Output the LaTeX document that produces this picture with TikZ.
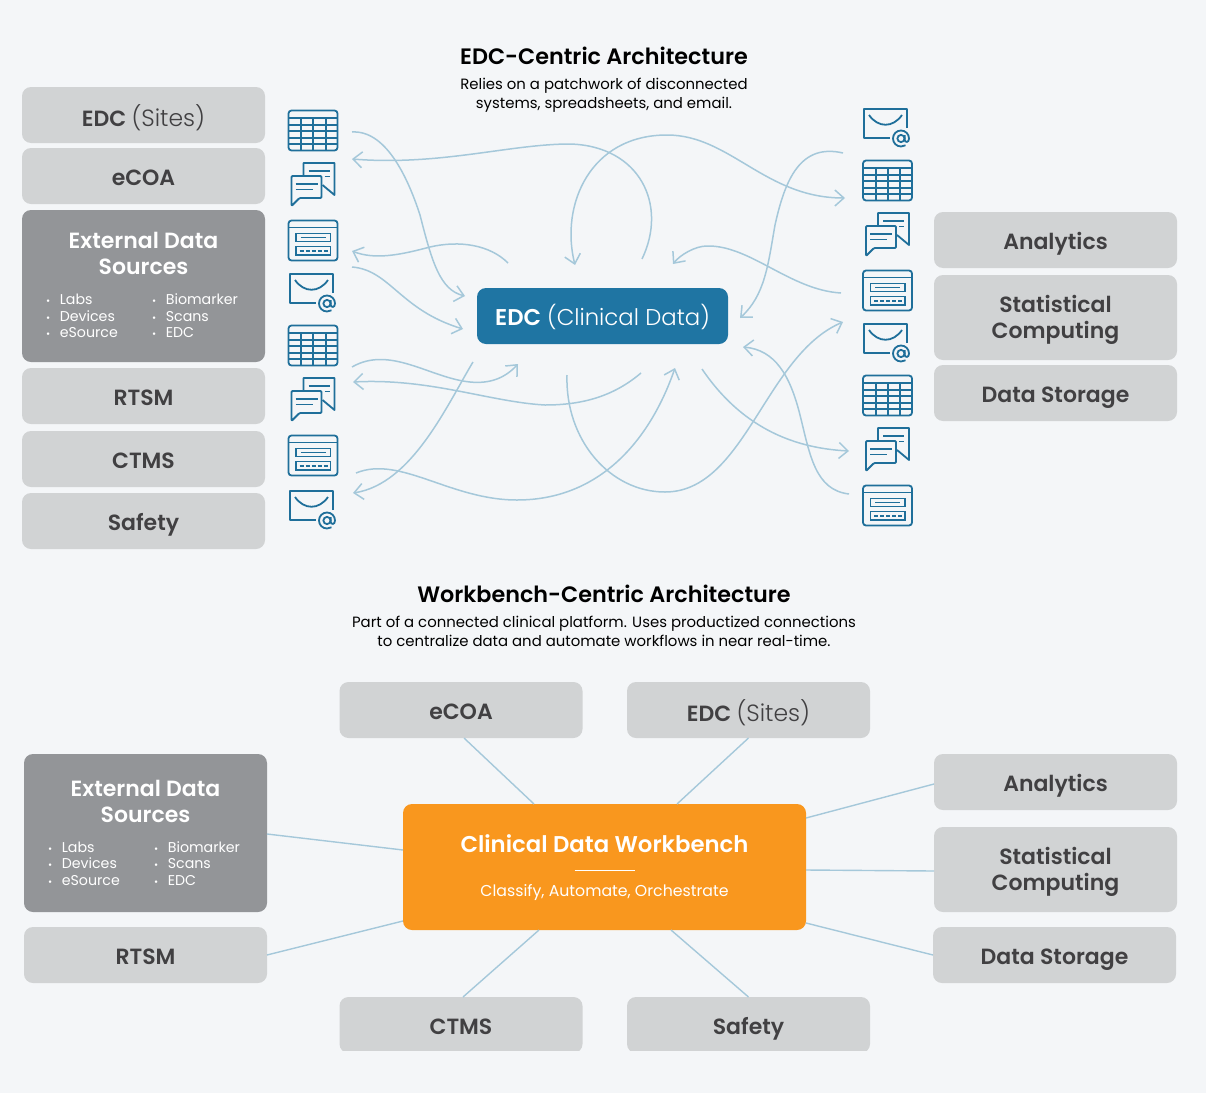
\documentclass[tikz,border=0pt]{standalone}
\usepackage{fontspec}
\setmainfont{Poppins}[BoldFont={Poppins SemiBold}]
\newfontfamily\semifont{Poppins SemiBold}
\newfontfamily\lightfont{Poppins Light}
\usepackage{xcolor}
\usetikzlibrary{positioning, arrows.meta}

\definecolor{pagebg}{HTML}{F4F6F8}
\definecolor{boxgray}{HTML}{D1D3D4}
\definecolor{darkgray}{HTML}{939598}
\definecolor{labelgray}{HTML}{414042}
\definecolor{edcblue}{HTML}{1F75A3}
\definecolor{iconblue}{HTML}{1F6F9A}
\definecolor{flowblue}{HTML}{A5C8DA}
\definecolor{wborange}{HTML}{F9971E}

\newcommand{\bul}{{\fontsize{10}{10}\selectfont\textbullet}\hspace{9.5pt}}
\newcommand{\sitesword}{{\fontsize{23.5}{26}\lightfont(Sites)}}

%--- small icons ------------------------------------------------------------
\tikzset{
  iconline/.style={draw=iconblue, line width=1.8pt, fill=none},
  tablepic/.pic={
    \draw[iconline, rounded corners=3pt] (0,0) rectangle (49,40);
    \draw[iconline, line width=2pt] (0,7) -- (49,7) (0,14) -- (49,14) (0,20.5) -- (49,20.5)
                    (0,27) -- (49,27) (0,33.5) -- (49,33.5)
                    (12.5,7) -- (12.5,40) (24.5,7) -- (24.5,40) (37,7) -- (37,40);
  },
  chatpic/.pic={
    \draw[iconline, line join=round] (12,12) -- (12,0) -- (43,0) -- (43,32) -- (31,22);
    \draw[iconline, line join=round, rounded corners=1pt] (0,43) -- (0,13) -- (30,13) -- (30,35) -- (8,35) -- cycle;
    \draw[iconline] (4,21) -- (26,21) (4,26.5) -- (21,26.5)
                    (17,8) -- (38,8) (33,13.5) -- (38,13.5);
  },
  formpic/.pic={
    \draw[iconline, rounded corners=3pt] (0,0) rectangle (49,40);
    \draw[iconline] (0,7) -- (49,7);
    \draw[iconline] (7.5,13) rectangle (42,21) (7.5,26) rectangle (42,34.5);
    \draw[iconline] (12,17) -- (37,17);
    \draw[iconline, dash pattern=on 4pt off 2pt] (11,30.3) -- (39,30.3);
  },
  mailpic/.pic={
    \draw[iconline, line join=round] (43,19) -- (43,0) -- (0,0) -- (0,29) -- (26,29);
    \draw[iconline] (5,6) .. controls (14,19) and (29,19) .. (38,6);
    \draw[iconline] (37,29.5) circle (3.6);
    \draw[iconline] (40.6,26) -- (40.6,31) .. controls (41,33.5) and (45,34) .. (45,29.5)
                    .. controls (45,25) and (41.4,21.5) .. (37,21.5)
                    .. controls (32.6,21.5) and (29,25) .. (29,29.5)
                    .. controls (29,34) and (32.6,37.5) .. (37,37.5)
                    .. controls (38.5,37.5) and (40,37.2) .. (41.5,36.3);
  }
}

\begin{document}
\begin{tikzpicture}[
  x=1pt, y=-1pt,
  node distance=6pt,
  >={Straight Barb[length=9pt,width=16pt]},
  plainbox/.style={rectangle, fill=boxgray, rounded corners=9pt, inner sep=0pt,
                   outer sep=0pt, minimum width=243pt},
  greybox/.style ={plainbox, align=center, minimum height=56pt, text=labelgray,
                   text height=20pt, text depth=2pt, font=\fontsize{22}{26}\semifont},
  sitesbox/.style={greybox, text height=22pt, text depth=0pt},
  twolines/.style={align=center, inner sep=0pt, text=labelgray, font=\fontsize{22}{26}\semifont},
  extbox/.style  ={plainbox, fill=darkgray},
  exthead/.style ={align=center, text=white, inner sep=0pt, font=\fontsize{22}{26}\semifont},
  extlist/.style ={align=left, text=white, inner sep=0pt, anchor=west, font=\fontsize{14.2}{16.5}\selectfont},
  heading/.style ={align=center, inner sep=0pt, text=black, font=\fontsize{22.3}{26}\bfseries},
  subhead/.style ={align=center, inner sep=0pt, text=black, font=\fontsize{14.9}{19}\selectfont},
  flow/.style    ={draw=flowblue, line width=1.5pt, ->},
  bothflow/.style={draw=flowblue, line width=1.5pt, <->},
  spoke/.style   ={draw=flowblue, line width=1.4pt}
]
\useasboundingbox (0,0) rectangle (1206,1092);
\fill[pagebg] (-1,-1) rectangle (1207,1093);

%--- Top part: titles -------------------------------------------------------
\node[heading] (edctitle) at (604,56) {EDC-Centric Architecture};
\node[subhead] (edcsub)   at (604,95) {Relies on a patchwork of disconnected\\systems, spreadsheets, and email.};

%--- Top part: left column --------------------------------------------------
\node[sitesbox] (edcsites) at (143.5,115) {EDC \sitesword};
\node[greybox] (ecoa)     [below=5pt of edcsites] {eCOA};
\node[extbox, minimum height=152pt] (ext) [below=of ecoa] {};
\node[exthead] (exthd)    at ([yshift=33pt]ext.center) {External Data\\Sources};
\node[extlist] (extla)    at ([xshift=24pt,yshift=-30pt]ext.west) {\bul Labs\\\bul Devices\\\bul eSource};
\node[extlist] (extlb)    at ([xshift=130pt,yshift=-30pt]ext.west) {\bul Biomarker\\\bul Scans\\\bul EDC};
\node[greybox] (rtsm)     [below=of ext] {RTSM};
\node[greybox] (ctms)     [below=7pt of rtsm] {CTMS};
\node[greybox] (safety)   [below=of ctms] {Safety};

%--- Top part: right column -------------------------------------------------
\node[greybox] (analytics) at (1055.5,240) {Analytics};
\node[plainbox, minimum height=85pt] (statcomp) at (1055.5,317.5) {};
\node[twolines] (statlbl)  at ([yshift=-2.5pt]statcomp.center) {Statistical\\Computing};
\node[greybox] (storage)   [below=5pt of statcomp] {Data Storage};

%--- Top part: centre -------------------------------------------------------
\node[rectangle, fill=edcblue, rounded corners=9pt, text=white, inner sep=0pt,
      minimum width=251pt, minimum height=56pt, text height=20pt, text depth=1pt,
      font=\fontsize{22.8}{28}\selectfont]
      (edcmain) at (602.5,316) {{\semifont EDC} {\lightfont(Clinical Data)}};

%--- Top part: icons --------------------------------------------------------
\pic (lt1) at (288.5,110.5) {tablepic};
\pic (lc1) at (291.5,163)   {chatpic};
\pic (lf1) at (288.5,220.5) {formpic};
\pic (lm1) at (290,274)     {mailpic};
\pic (lt2) at (288.5,325.5) {tablepic};
\pic (lc2) at (291.5,378)   {chatpic};
\pic (lf2) at (288.5,435.5) {formpic};
\pic (lm2) at (290,491)     {mailpic};
\pic (rm1) at (864,109)     {mailpic};
\pic (rt1) at (863,160.5)   {tablepic};
\pic (rc1) at (866,213)     {chatpic};
\pic (rf1) at (863,270.5)   {formpic};
\pic (rm2) at (864,324)     {mailpic};
\pic (rt2) at (863,375.5)   {tablepic};
\pic (rc2) at (866,428)     {chatpic};
\pic (rf2) at (863,485.5)   {formpic};

%--- Top part: tangled lines ------------------------------------------------
\coordinate (a1) at (352,132); \coordinate (a2) at (465,296);
\coordinate (b1) at (642,259); \coordinate (b2) at (352,159);
\coordinate (c1) at (575,265); \coordinate (c2) at (845,198);
\coordinate (d1) at (843,153); \coordinate (d2) at (740,318);
\coordinate (e1) at (841,293); \coordinate (e2) at (673,264);
\coordinate (f1) at (508,263); \coordinate (f2) at (352,251);
\coordinate (g1) at (352,267); \coordinate (g2) at (463,329);
\coordinate (h1) at (352,367); \coordinate (h2) at (518,364);
\coordinate (i1) at (641,373); \coordinate (i2) at (353,382);
\coordinate (j1) at (473,362); \coordinate (j2) at (353,493);
\coordinate (k1) at (356,473); \coordinate (k2) at (675,368);
\coordinate (l1) at (567,375); \coordinate (l2) at (843,322);
\coordinate (m1) at (702,369); \coordinate (m2) at (849,451);
\coordinate (n1) at (849,494); \coordinate (n2) at (743,347);

\draw[flow] (a1) .. controls (385,130) and (407,175) .. (420,215) .. controls (432,262) and (440,290) .. (a2);
\draw[flow] (b1) .. controls (668,205) and (640,146) .. (570,144) .. controls (510,144) and (440,166) .. (b2);
\draw[bothflow] (c1) .. controls (560,205) and (590,135) .. (667,135) .. controls (730,135) and (765,198) .. (c2);
\draw[flow] (d1) .. controls (800,143) and (785,180) .. (775,225) .. controls (768,265) and (765,295) .. (d2);
\draw[flow] (e1) .. controls (790,290) and (750,245) .. (707,246) .. controls (695,246) and (680,255) .. (e2);
\draw[flow] (f1) .. controls (490,245) and (460,240) .. (430,247) .. controls (400,255) and (375,260) .. (f2);
\draw[flow] (g1) .. controls (390,270) and (400,310) .. (g2);
\draw[flow] (h1) .. controls (390,345) and (430,378) .. (470,382) .. controls (490,384) and (505,378) .. (h2);
\draw[flow] (i1) .. controls (615,395) and (585,405) .. (545,405) .. controls (490,402) and (430,378) .. (i2);
\draw[flow] (j1) .. controls (447,405) and (412,484) .. (j2);
\draw[flow] (k1) .. controls (400,455) and (450,500) .. (517,500) .. controls (600,500) and (650,440) .. (k2);
\draw[flow] (l1) .. controls (565,440) and (610,492) .. (665,492) .. controls (745,492) and (765,355) .. (l2);
\draw[flow] (m1) .. controls (740,425) and (790,448) .. (m2);
\draw[flow] (n1) .. controls (815,490) and (810,455) .. (800,415) .. controls (790,375) and (775,350) .. (n2);

%--- Bottom part: titles ----------------------------------------------------
\node[heading] (wbtitle) at (604,594) {Workbench-Centric Architecture};
\node[subhead] (wbsub)   at (604,631) {Part of a connected clinical platform. Uses productized connections\\to centralize data and automate workflows in near real-time.};

%--- Bottom part: boxes -----------------------------------------------------
\node[rectangle, fill=wborange, rounded corners=9pt, inner sep=0pt, outer sep=0pt,
      minimum width=403pt, minimum height=126pt] (wb) at (604.5,867) {};
\node[text=white, inner sep=0pt, font=\fontsize{22.8}{28}\bfseries] (wbhead) at (604.5,844) {Clinical Data Workbench};
\node[text=white, inner sep=0pt, font=\fontsize{15.75}{19}\selectfont] (wbtag) at (604.5,893) {Classify, Automate, Orchestrate};
\draw[white, line width=1pt] (wb.center |- 0,870) ++(-30,0) -- ++(60,0);

\node[greybox] (wecoa)  at (461,710)   {eCOA};
\node[sitesbox] (wsites) at (748.5,710) {EDC \sitesword};
\node[extbox, minimum height=158pt] (wext) at (145.5,833) {};
\node[exthead] (wexthd) at ([yshift=32pt]wext.center) {External Data\\Sources};
\node[extlist] (wextla) at ([xshift=24pt,yshift=-30.5pt]wext.west) {\bul Labs\\\bul Devices\\\bul eSource};
\node[extlist] (wextlb) at ([xshift=130pt,yshift=-30.5pt]wext.west) {\bul Biomarker\\\bul Scans\\\bul EDC};
\node[greybox] (wrtsm)  at (145.5,955) {RTSM};
\node[greybox] (wanalytics) at (1055.5,782) {Analytics};
\node[plainbox, minimum height=85pt] (wstat) at (1055.5,869.5) {};
\node[twolines] (wstatlbl) at ([yshift=-2.5pt]wstat.center) {Statistical\\Computing};
\node[greybox] (wstore) at (1054.5,955) {Data Storage};
\begin{scope}
  \clip (0,0) rectangle (1206,1050);
  \node[greybox] (wctms)   at (461,1025)   {CTMS};
  \node[greybox] (wsafety) at (748.5,1025) {Safety};
\end{scope}

%--- connection -------------------------------------------------------------
\draw[spoke] ([xshift=3pt]wecoa.south) -- ([xshift=131pt]wb.north west);
\draw[spoke] (wsites.south) -- ([xshift=274pt]wb.north west);
\draw[spoke] ([yshift=-1pt]wext.east) -- ([yshift=17pt]wb.west);
\draw[spoke] (wrtsm.east) -- ([yshift=-54pt]wb.west);
\draw[spoke] ([xshift=2pt]wctms.north) -- ([xshift=136pt]wb.south west);
\draw[spoke] (wsafety.north) -- ([xshift=268pt]wb.south west);
\draw[spoke] ([yshift=-2pt]wanalytics.west) -- ([yshift=49pt]wb.east);
\draw[spoke] ([yshift=-1.5pt]wstat.west) -- ([yshift=-3pt]wb.east);
\draw[spoke] (wstore.west) -- ([yshift=-56pt]wb.east);
\end{tikzpicture}
\end{document}
